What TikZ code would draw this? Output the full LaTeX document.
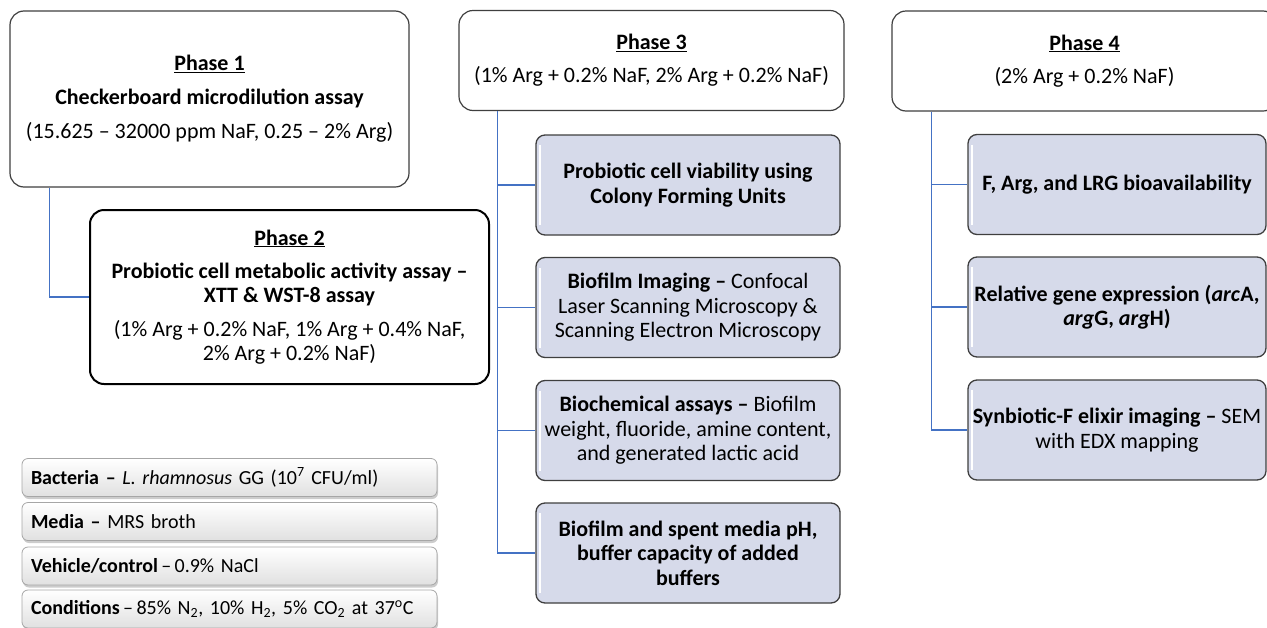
\documentclass[tikz,border=0pt]{standalone}
\usepackage{fontspec}
\setmainfont{Carlito}
\usetikzlibrary{shadows}
\definecolor{boxgray}{HTML}{3F3F3F}
\definecolor{childfill}{HTML}{D6DAEA}
\definecolor{connblue}{HTML}{4472C4}
\definecolor{notegray}{HTML}{A6A6A6}
\begin{document}
\begin{tikzpicture}[x=1pt,y=-1pt,
  every node/.style={font=\fontsize{22}{24.5}\selectfont, align=center, inner sep=0pt},
  phase/.style={draw=boxgray, line width=1.2pt, rounded corners=14pt, fill=white},
  phasetwo/.style={draw=black, line width=2pt, rounded corners=14pt, fill=white},
  child/.style={draw=boxgray, line width=1.3pt, rounded corners=9pt, fill=childfill, minimum height=100pt,
    path picture={\draw[white, line width=1.5pt] ([shift={(4pt,-10pt)}]path picture bounding box.north west) -- ([shift={(4pt,10pt)}]path picture bounding box.south west);}},
  conn/.style={draw=connblue, line width=1.5pt},
  note/.style={draw=notegray, line width=0.8pt, rounded corners=6pt, top color=white, bottom color=black!12,
    minimum width=415pt, minimum height=38pt, text width=397pt, align=left,
    font=\fontsize{20}{22}\selectfont,
    drop shadow={shadow xshift=1pt, shadow yshift=-2.5pt, fill=black!40, opacity=0.5}}]
\useasboundingbox (0,0) rectangle (1267,627);

% Phase 1 and 2
\node[phase, minimum width=399pt, minimum height=176pt] (p1) at (209.5,99)
  {\textbf{\underline{Phase 1}}\\[9.5pt]
   \textbf{Checkerboard microdilution assay}\\[9.5pt]
   (15.625 – 32000 ppm NaF, 0.25 – 2\% Arg)};
\node[phasetwo, minimum width=399pt, minimum height=174pt] (p2) at (289.5,297)
  {\textbf{\underline{Phase 2}}\\[8.5pt]
   \textbf{Probiotic cell metabolic activity assay –}\\
   \textbf{XTT \& WST-8 assay}\\[9pt]
   (1\% Arg + 0.2\% NaF, 1\% Arg + 0.4\% NaF,\\
   2\% Arg + 0.2\% NaF)};
\draw[conn] ([xshift=40pt]p1.south west) |- (p2.west);

% Phase 3
\node[phase, minimum width=385pt, minimum height=100pt] (p3) at (651.5,60.5)
  {\textbf{\underline{Phase 3}}\\[8.5pt]
   (1\% Arg + 0.2\% NaF, 2\% Arg + 0.2\% NaF)};
\node[child, minimum width=304pt] (c1) at (688,185)
  {\textbf{Probiotic cell viability using}\\ \textbf{Colony Forming Units}};
\node[child, minimum width=304pt] (c2) at (688,307.5)
  {\textbf{Biofilm Imaging –} Confocal\\ Laser Scanning Microscopy \&\\ Scanning Electron Microscopy};
\node[child, minimum width=304pt] (c3) at (688,430.5)
  {\textbf{Biochemical assays –} Biofilm\\ weight, fluoride, amine content,\\ and generated lactic acid};
\node[child, minimum width=304pt] (c4) at (688,553)
  {\textbf{Biofilm and spent media pH,}\\ \textbf{buffer capacity of added}\\ \textbf{buffers}};
\coordinate (t3) at ([xshift=39pt]p3.south west);
\draw[conn] (t3) |- (c1.west);
\draw[conn] (t3) |- (c2.west);
\draw[conn] (t3) |- (c3.west);
\draw[conn] (t3) |- (c4.west);

% Phase 4
\node[phase, minimum width=385pt, minimum height=100pt] (p4) at (1084.5,61)
  {\textbf{\underline{Phase 4}}\\[9pt]
   (2\% Arg + 0.2\% NaF)};
\node[child, minimum width=298pt] (d1) at (1117,184.5)
  {\textbf{F, Arg, and LRG bioavailability}};
\node[child, minimum width=298pt] (d2) at (1117,307)
  {\textbf{Relative gene expression (\textit{arc}A,}\\ \textbf{\textit{arg}G, \textit{arg}H)}};
\node[child, minimum width=298pt] (d3) at (1117,430)
  {\textbf{Synbiotic-F elixir imaging –} SEM\\ with EDX mapping};
\coordinate (t4) at ([xshift=40pt]p4.south west);
\draw[conn] (t4) |- (d1.west);
\draw[conn] (t4) |- (d2.west);
\draw[conn] (t4) |- (d3.west);

% Notes
\node[note] (n1) at (229.5,477.5)
  {\textbf{Bacteria –} \textit{L. rhamnosus} GG (10\textsuperscript{7} CFU/ml)};
\node[note] (n2) at (229.5,521.5)
  {\textbf{Media –} MRS broth};
\node[note] (n3) at (229.5,566)
  {\textbf{Vehicle/control}\,–\,0.9\% NaCl};
\node[note] (n4) at (229.5,609)
  {\textbf{Conditions}\,–\,85\% N\textsubscript{2}, 10\% H\textsubscript{2}, 5\% CO\textsubscript{2} at 37\textsuperscript{o}C};
\end{tikzpicture}
\end{document}
